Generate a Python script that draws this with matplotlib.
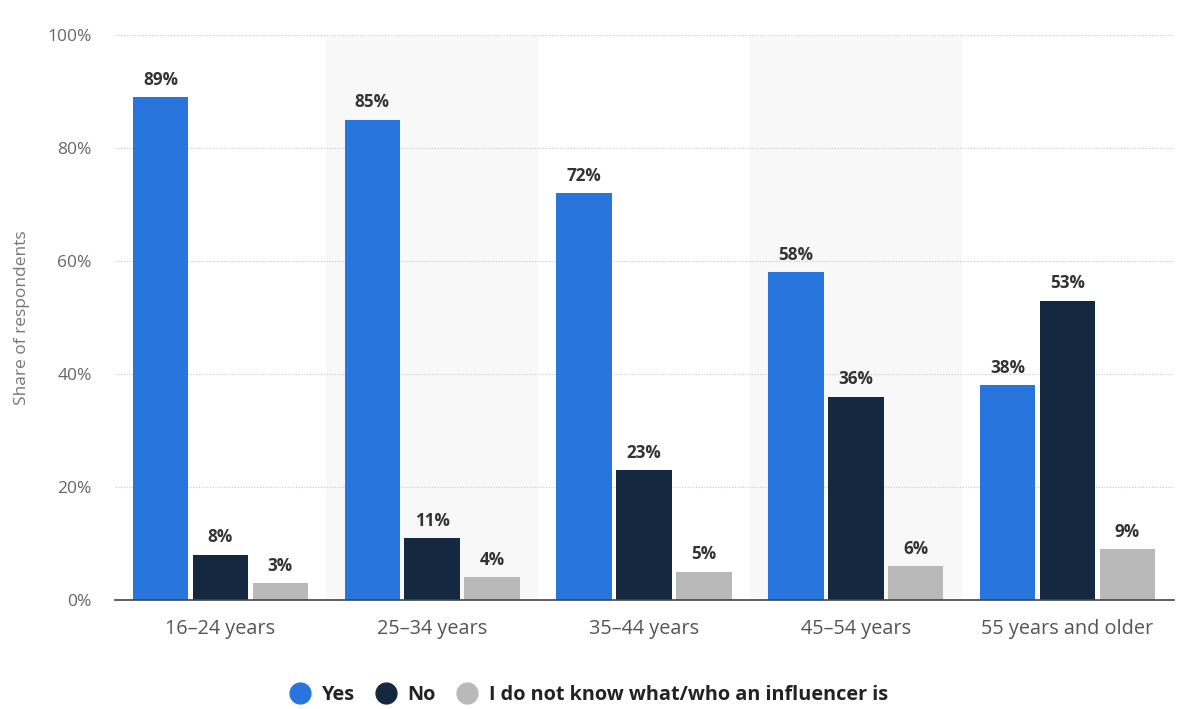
import matplotlib
matplotlib.use("Agg")
import matplotlib.pyplot as plt
from matplotlib.lines import Line2D
import numpy as np

# Survey data: share of respondents by age group
age_groups = ["16–24 years", "25–34 years", "35–44 years", "45–54 years", "55 years and older"]
yes_values = [89, 85, 72, 58, 38]
no_values = [8, 11, 23, 36, 53]
unknown_values = [3, 4, 5, 6, 9]
series_names = ["Yes", "No", "I do not know what/who an influencer is"]
y_ticks = [0, 20, 40, 60, 80, 100]

colors = ["#2876dd", "#14283f", "#b9b9b9"]

plt.rcParams["font.family"] = ["Open Sans", "DejaVu Sans"]

fig = plt.figure(figsize=(11.84, 7.09), dpi=100)
ax = fig.add_axes([114.5 / 1184, 1 - 600 / 709, (1173.5 - 114.5) / 1184, (600 - 35) / 709])

x = np.arange(len(age_groups))
bar_w = 0.262
step = 0.283

# alternating shaded bands behind every other group
for i in range(len(age_groups)):
    if i % 2 == 1:
        ax.axvspan(i - 0.5, i + 0.5, ymax=0.998, color="#f8f8f8", zorder=0, lw=0)

for k, (vals, col) in enumerate(zip([yes_values, no_values, unknown_values], colors)):
    pos = x + (k - 1) * step
    bars = ax.bar(pos, vals, width=bar_w, color=col, zorder=3)
    for b, v in zip(bars, vals):
        ax.annotate(f"{v}%", (b.get_x() + b.get_width() / 2, v),
                    xytext=(0, 6), textcoords="offset points",
                    ha="center", va="bottom", fontsize=12.3, fontweight="bold",
                    color="#333333", zorder=4)

ax.set_xlim(-0.5, len(age_groups) - 0.5)
ax.set_ylim(0, 100)
ax.set_yticks(y_ticks)
ax.set_yticklabels([f"{t}%" for t in y_ticks])
ax.set_xticks(x)
ax.set_xticklabels(age_groups)

ax.grid(axis="y", color="#c8c8c8", linestyle=(0, (1, 1.5)), linewidth=0.8, zorder=1)
ax.set_axisbelow(True)
for s in ["top", "right", "left"]:
    ax.spines[s].set_visible(False)
ax.spines["bottom"].set_color("#444444")
ax.spines["bottom"].set_linewidth(1.2)
ax.spines["bottom"].set_zorder(5)

ax.tick_params(axis="y", length=0, pad=16.5, labelsize=12.5, labelcolor="#666666")
ax.tick_params(axis="x", length=0, pad=13.5, labelsize=14.3, labelcolor="#555555")

ax.set_ylabel("Share of respondents", fontsize=12.5, color="#777777")
ax.yaxis.set_label_coords(-0.080, 0.5)

handles = [Line2D([0], [0], marker="o", linestyle="", markersize=15,
                  markerfacecolor=c, markeredgecolor=c) for c in colors]
leg = fig.legend(handles, series_names, loc="center",
                 bbox_to_anchor=(0.5 - 4 / 1184, 1 - 695 / 709),
                 ncol=3, frameon=False, fontsize=14.3, handletextpad=0.5,
                 columnspacing=0.95, handlelength=1.2)
for t in leg.get_texts():
    t.set_fontweight("bold")
    t.set_color("#222222")

fig.savefig("out.png", dpi=100, facecolor="white")
